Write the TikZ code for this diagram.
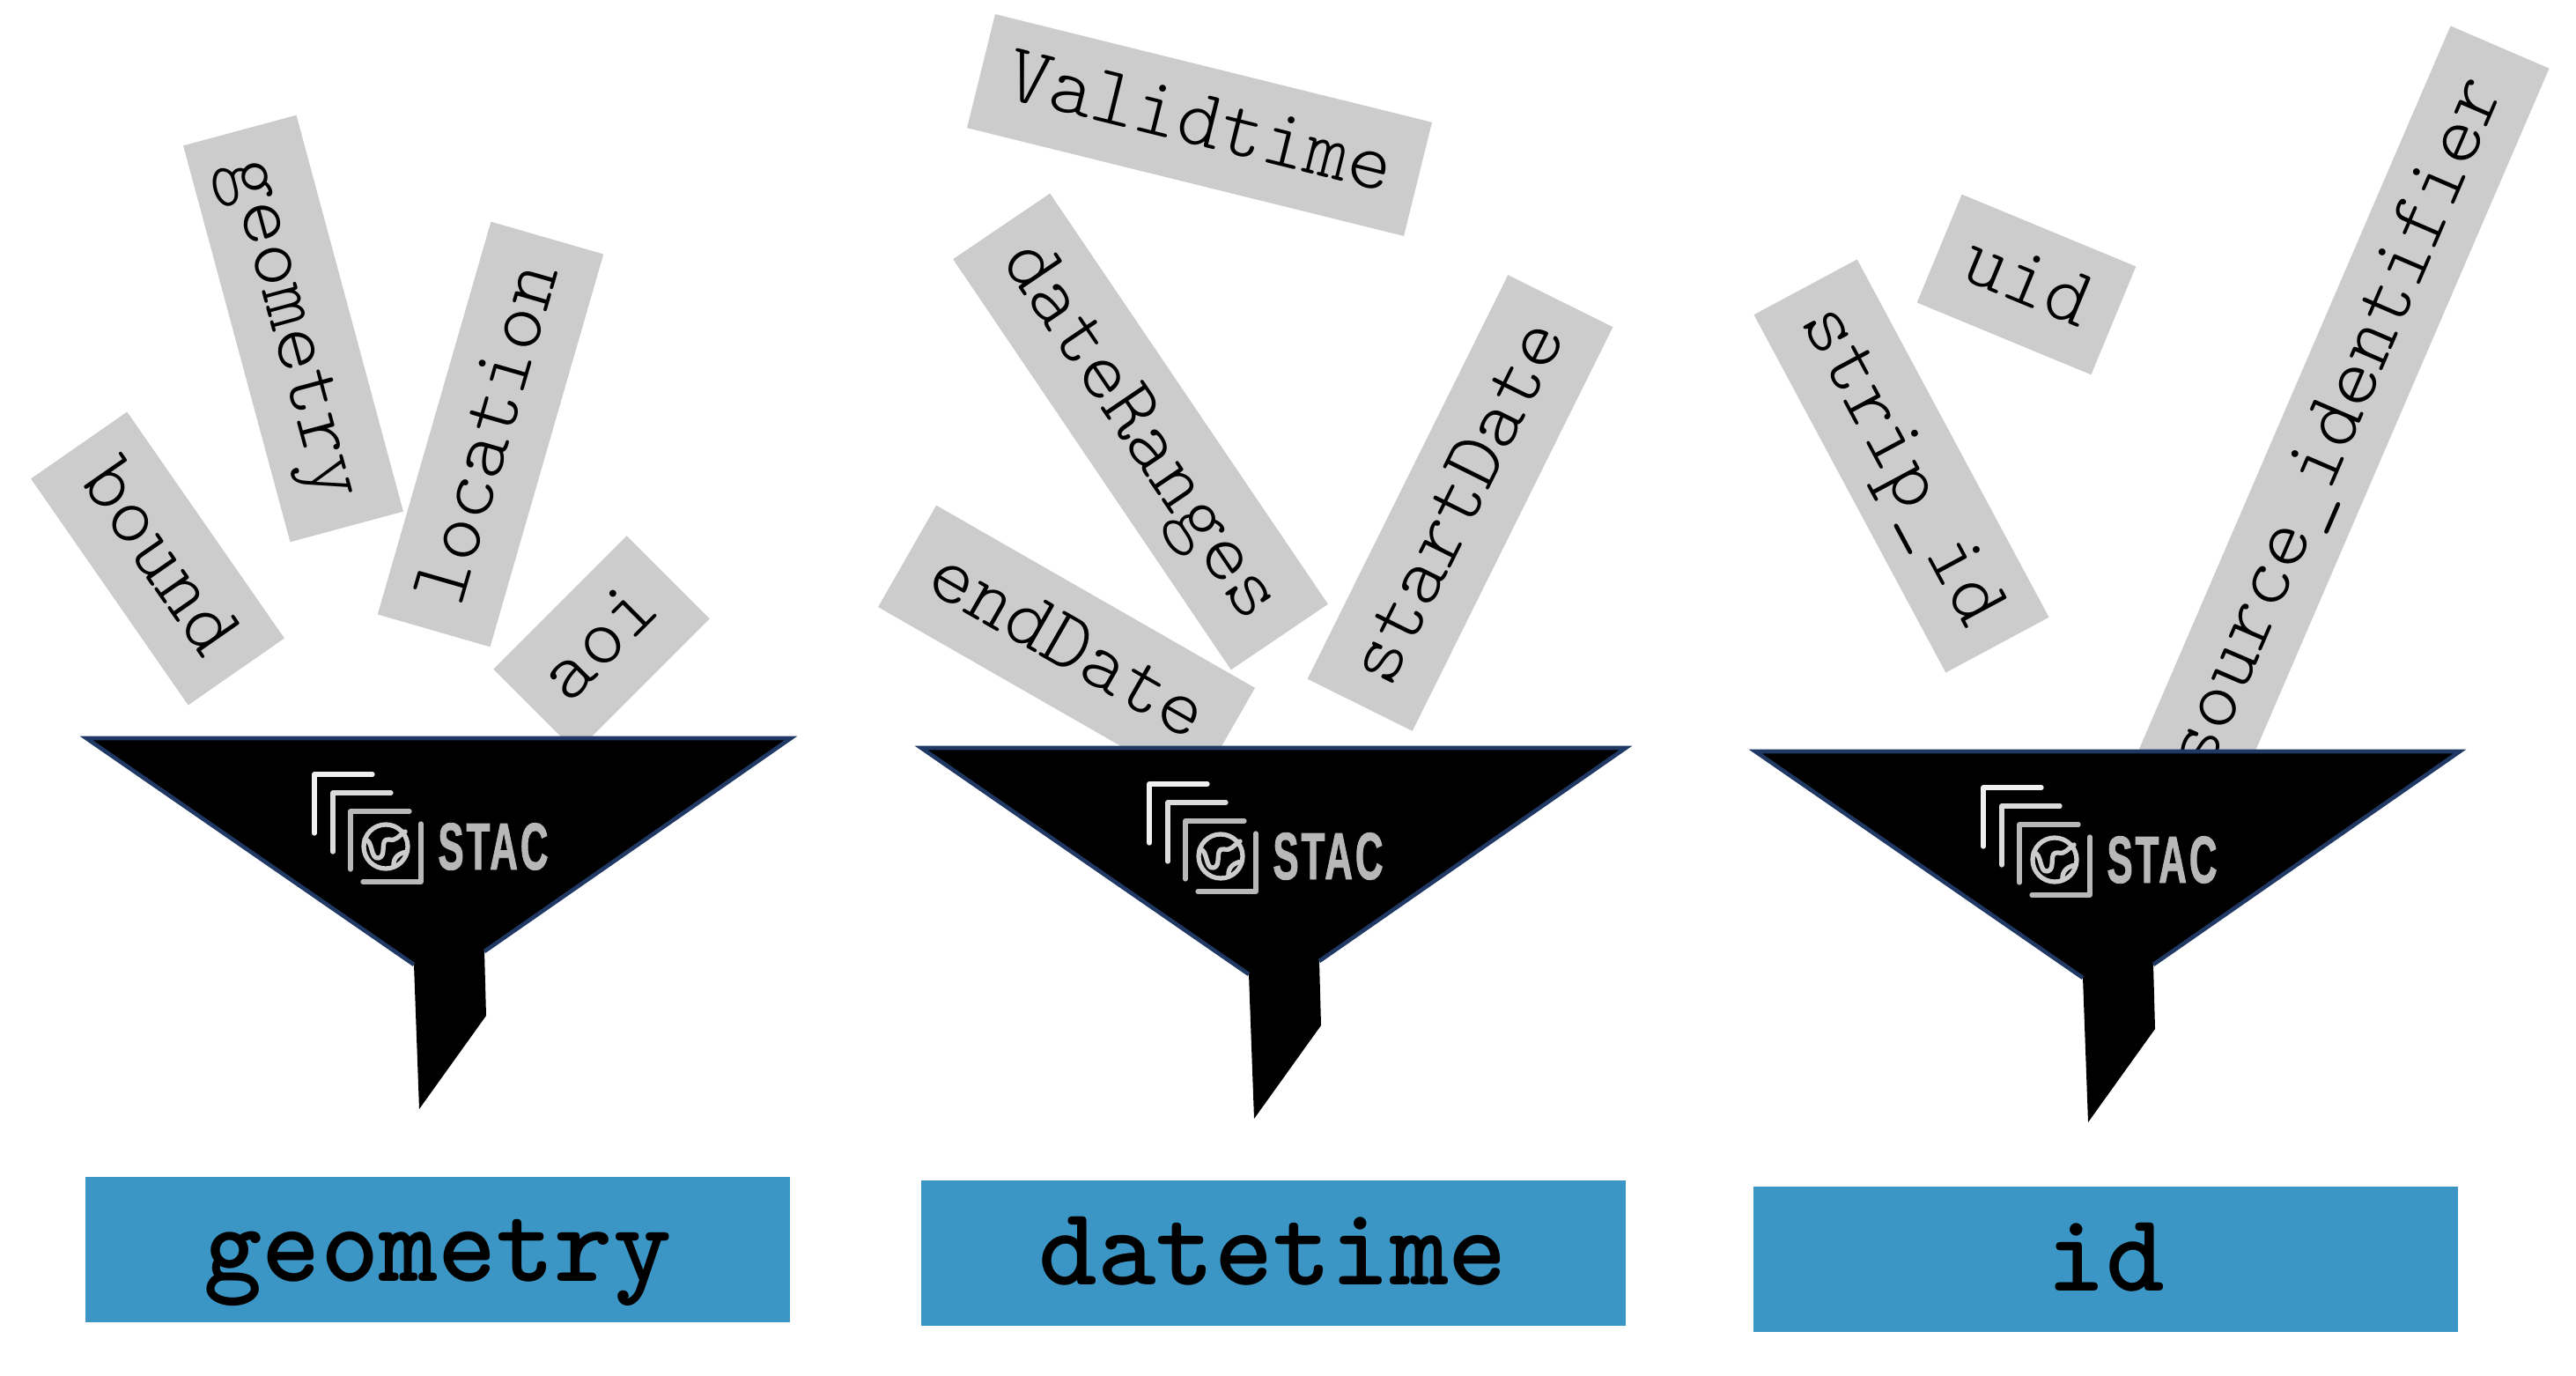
\documentclass[tikz,border=0pt]{standalone}
\usepackage{fontspec}
\usepackage{tikz}
\newfontfamily\stacfont[FakeStretch=0.58,LetterSpace=4,BoldFeatures={FakeBold=1.2}]{Liberation Sans}
\definecolor{tagrey}{HTML}{CCCCCC}
\definecolor{barblue}{HTML}{3B96C6}
\definecolor{rimnavy}{HTML}{1F3864}
\definecolor{logogrey}{HTML}{B8B8B8}
\begin{document}
\begin{tikzpicture}[
  tag/.style={fill=tagrey, minimum height=1.33cm, inner sep=0pt,
    text height=0.55cm, text depth=0.09cm,
    font=\fontsize{27}{30}\selectfont\ttfamily\fontseries{l}\selectfont},
  bar/.style={fill=barblue, minimum width=8cm, minimum height=1.65cm, inner sep=0pt,
    text height=0.79cm, text depth=0.07cm,
    font=\fontsize{36}{40}\selectfont\ttfamily\bfseries},
  logoline/.style={line width=1.5pt, line cap=round, line join=round}
]
\useasboundingbox (0,0) rectangle (29.25,15.61);
% ---- geometry tags ----
\node[tag, minimum width=3.13cm, rotate=-55.2] (bound) at (1.79,9.27) {bound};
\node[tag, minimum width=4.66cm, rotate=-74.9] (geom) at (3.33,11.88) {geometry};
\node[tag, minimum width=4.64cm, rotate=73.9] (location) at (5.57,10.68) {location};
\node[tag, minimum width=2.14cm, rotate=45] (aoi) at (6.83,8.30) {aoi};
% ---- datetime tags ----
\node[tag, minimum width=5.11cm, rotate=-13.9] (validtime) at (13.62,14.19) {Validtime};
\node[tag, minimum width=5.63cm, rotate=-55.9] (dateranges) at (12.95,10.71) {dateRanges};
\node[tag, minimum width=5.12cm, rotate=63.6] (startdate) at (16.58,9.90) {startDate};
\node[tag, minimum width=4.17cm, rotate=-29.8] (enddate) at (12.11,8.26) {endDate};
% ---- id tags ----
\node[tag, minimum width=4.61cm, rotate=-61.8] (stripid) at (21.59,10.32) {strip\_id};
\node[tag, minimum width=2.14cm, rotate=-22.5] (uid) at (23.01,12.38) {uid};
\node[tag, minimum width=9.33cm, minimum height=1.22cm, rotate=66.7] (sourceid) at (26.54,10.79) {source\_identifier};
% ---- funnels ----
\foreach \dx/\dy/\i in {0/0/1, 9.48/-0.11/2, 18.95/-0.15/3} {
  \begin{scope}[shift={(\dx,\dy)}]
    \fill (0.98,7.23) -- (8.98,7.23) -- (5.50,4.81) -- (5.52,4.08) -- (4.76,3.02) -- (4.70,4.66) -- cycle;
    \draw[rimnavy, line width=1.3pt, line join=miter] (4.70,4.66) -- (0.98,7.23) -- (8.98,7.23) -- (5.50,4.81);
    % logo
    \draw[logoline, white!94!black] (3.57,6.15) -- (3.57,6.82) -- (4.23,6.82);
    \draw[logoline, white!86!black] (3.78,5.94) -- (3.78,6.61) -- (4.44,6.61);
    \draw[logoline, logogrey] (3.98,5.74) -- (3.98,6.40) -- (4.65,6.40);
    \draw[logoline, logogrey] (4.78,6.26) -- (4.78,5.60) -- (4.12,5.60);
    \draw[logoline, white!80!black] (4.38,6.00) circle (0.25);
    \draw[logoline, white!80!black] (4.14,6.08) .. controls (4.24,6.08) and (4.20,5.85) .. (4.30,5.87)
      .. controls (4.40,5.89) and (4.30,6.10) .. (4.42,6.08)
      .. controls (4.50,6.06) and (4.52,6.12) .. (4.60,6.17);
    \draw[logoline, white!80!black] (4.47,5.78) .. controls (4.46,5.88) and (4.54,5.93) .. (4.62,5.94);
    \node[logogrey, inner sep=0pt, font=\fontsize{21.5}{22}\selectfont\stacfont\bfseries] (stac\i) at (5.60,6.00) {STAC};
  \end{scope}
}
% ---- output fields ----
\node[bar] (geombar) at (4.97,1.43) {geometry};
\node[bar] (datebar) at (14.455,1.39) {datetime};
\node[bar] (idbar) at (23.91,1.32) {id};
\end{tikzpicture}
\end{document}
